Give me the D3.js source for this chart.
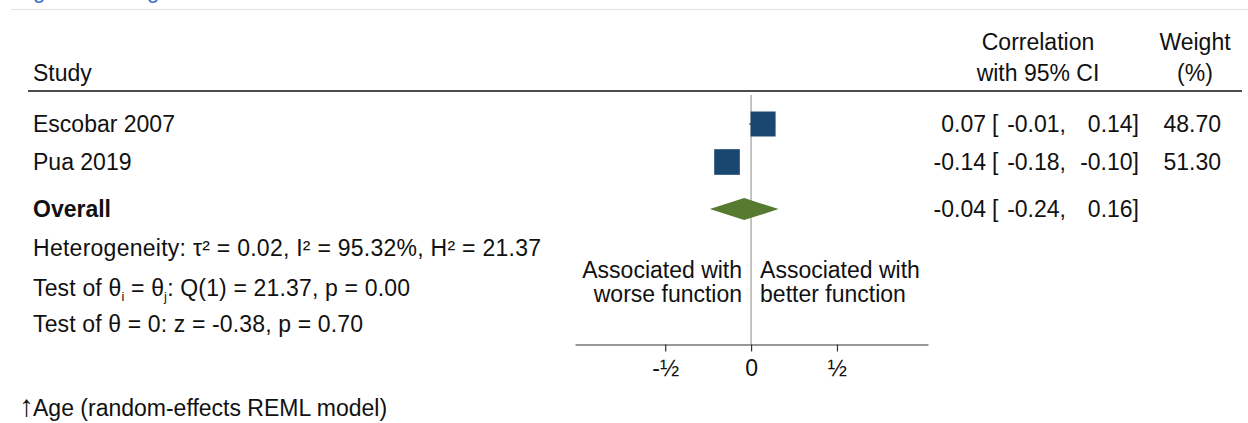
<!DOCTYPE html>
<html>
<head>
<meta charset="utf-8">
<script src="https://cdn.jsdelivr.net/npm/d3@7"></script>
<style>
  html, body { margin: 0; padding: 0; background: #fff; }
  svg { display: block; font-family: "Liberation Sans", Arial, Helvetica, sans-serif; }
</style>
</head>
<body>
<svg id="chart" width="1248" height="423"></svg>
<script>
// Study-level correlations with 95% CI and random-effects weights
const studies   = ["Escobar 2007", "Pua 2019"];
const estimates = [0.07, -0.14];
const lowerCI   = [-0.01, -0.18];
const upperCI   = [0.14, -0.10];
const weights   = [48.70, 51.30];

// Pooled estimate
const overallLabel = "Overall";
const overall = [-0.04, -0.24, 0.16];   // estimate, lower, upper

// Axis ticks
const tickValues = [-0.5, 0, 0.5];
const tickLabels = ["-½", "0", "½"];

const svg = d3.select("#chart");
const FS = 23;
const ink = "#111";

// Faint separator across the top, with the tail of a heading above it
svg.append("line")
  .attr("x1", 11).attr("x2", 1248).attr("y1", 9.5).attr("y2", 9.5)
  .attr("stroke", "#e2e2e2").attr("stroke-width", 1.2);
const head = svg.append("text").attr("y", -2.5).attr("fill", "#3a6fcf")
  .attr("font-size", 22);
head.append("tspan").attr("x", 33).text("g");
head.append("tspan").attr("x", 147).text("g");

// Scales
const x = d3.scaleLinear().domain([-1.025, 1.03]).range([575, 928]);
const rowY = d3.scaleLinear().domain([0, 1]).range([124, 162]);
const overallRow = 2.24;

// Column headers
const hdr = svg.append("g").attr("font-size", FS).attr("fill", ink);
hdr.append("text").attr("x", 33).attr("y", 81).text("Study");
hdr.append("text").attr("x", 1038).attr("y", 50).attr("text-anchor", "middle").text("Correlation");
hdr.append("text").attr("x", 1038).attr("y", 81).attr("text-anchor", "middle").text("with 95% CI");
hdr.append("text").attr("x", 1195).attr("y", 50).attr("text-anchor", "middle").text("Weight");
hdr.append("text").attr("x", 1195).attr("y", 81).attr("text-anchor", "middle").text("(%)");

svg.append("line")
  .attr("x1", 28).attr("x2", 1242).attr("y1", 91).attr("y2", 91)
  .attr("stroke", ink).attr("stroke-width", 1.5);

// Line of no effect
svg.append("line")
  .attr("x1", x(0)).attr("x2", x(0)).attr("y1", 95).attr("y2", 344)
  .attr("stroke", "#8a8a8a").attr("stroke-width", 1);

// Study rows
const f2 = v => v.toFixed(2);
const navy = "#1a476f";
const rows = studies.map((s, i) => ({
  name: s, est: estimates[i], lo: lowerCI[i], hi: upperCI[i], w: weights[i], y: rowY(i)
}));

const g = svg.append("g");
g.selectAll("line.ci").data(rows).join("line")
  .attr("class", "ci")
  .attr("x1", d => x(d.lo)).attr("x2", d => x(d.hi))
  .attr("y1", d => d.y).attr("y2", d => d.y)
  .attr("stroke", navy).attr("stroke-width", 1.5);

const side = d => 3.58 * Math.sqrt(d.w);
g.selectAll("rect.box").data(rows).join("rect")
  .attr("class", "box")
  .attr("x", d => x(d.est) - side(d) / 2)
  .attr("y", d => d.y - side(d) / 2)
  .attr("width", side).attr("height", side)
  .attr("fill", navy);

const txt = svg.append("g").attr("font-size", FS).attr("fill", ink);
function ciText(yb, est, lo, hi) {
  txt.append("text").attr("x", 986).attr("y", yb).attr("text-anchor", "end").text(f2(est));
  txt.append("text").attr("x", 992).attr("y", yb).text("[");
  txt.append("text").attr("x", 1066).attr("y", yb).attr("text-anchor", "end").text(f2(lo) + ",");
  txt.append("text").attr("x", 1139).attr("y", yb).attr("text-anchor", "end").text(f2(hi) + "]");
}
rows.forEach(d => {
  const yb = d.y + 8;
  txt.append("text").attr("x", 33).attr("y", yb).text(d.name);
  ciText(yb, d.est, d.lo, d.hi);
  txt.append("text").attr("x", 1221).attr("y", yb).attr("text-anchor", "end").text(f2(d.w));
});

// Pooled estimate diamond
const oy = rowY(overallRow);
const dh = 11;
svg.append("path")
  .attr("d", `M${x(overall[1])},${oy} L${x(overall[0])},${oy - dh} L${x(overall[2])},${oy} L${x(overall[0])},${oy + dh} Z`)
  .attr("fill", "#567a2f");
txt.append("text").attr("x", 33).attr("y", oy + 8).attr("font-weight", "bold").text(overallLabel);
ciText(oy + 8, overall[0], overall[1], overall[2]);

// Heterogeneity statistics
const stats = svg.append("g").attr("font-size", FS).attr("fill", ink);
stats.append("text").attr("x", 33).attr("y", 256)
  .attr("textLength", 508).attr("lengthAdjust", "spacing")
  .text("Heterogeneity: τ² = 0.02, I² = 95.32%, H² = 21.37");
const t2 = stats.append("text").attr("x", 33).attr("y", 296)
  .attr("textLength", 377).attr("lengthAdjust", "spacing");
t2.append("tspan").text("Test of θ");
t2.append("tspan").attr("font-size", 13).attr("dy", 5).text("i");
t2.append("tspan").attr("dy", -5).text(" = θ");
t2.append("tspan").attr("font-size", 13).attr("dy", 5).text("j");
t2.append("tspan").attr("dy", -5).text(": Q(1) = 21.37, p = 0.00");
stats.append("text").attr("x", 33).attr("y", 332)
  .attr("textLength", 330).attr("lengthAdjust", "spacing")
  .text("Test of θ = 0: z = -0.38, p = 0.70");

// Direction labels either side of zero
const dir = svg.append("g").attr("font-size", FS).attr("fill", ink);
dir.append("text").attr("x", x(0) - 9).attr("y", 278).attr("text-anchor", "end").text("Associated with");
dir.append("text").attr("x", x(0) - 9).attr("y", 302).attr("text-anchor", "end").text("worse function");
dir.append("text").attr("x", x(0) + 9).attr("y", 278).text("Associated with");
dir.append("text").attr("x", x(0) + 9).attr("y", 302).text("better function");

// X axis
const axis = d3.axisBottom(x)
  .tickValues(tickValues)
  .tickSize(7)
  .tickSizeOuter(0)
  .tickFormat((d, i) => tickLabels[i]);
const ax = svg.append("g").attr("transform", "translate(0,344.5)").call(axis);
ax.select(".domain").attr("stroke", "#333").attr("stroke-width", 1.2);
ax.selectAll(".tick line").attr("stroke", "#333").attr("stroke-width", 1.2);
ax.selectAll(".tick text")
  .attr("font-size", FS).attr("fill", ink)
  .attr("font-family", "'Liberation Sans', Arial, Helvetica, sans-serif")
  .attr("dy", "0.95em");

// Footnote
const foot = svg.append("text").attr("y", 416).attr("font-size", FS).attr("fill", ink);
foot.append("tspan").attr("x", 19).attr("font-size", 30).attr("font-weight", "bold").text("↑");
foot.append("tspan").attr("x", 33).text("Age (random-effects REML model)");
</script>
</body>
</html>
